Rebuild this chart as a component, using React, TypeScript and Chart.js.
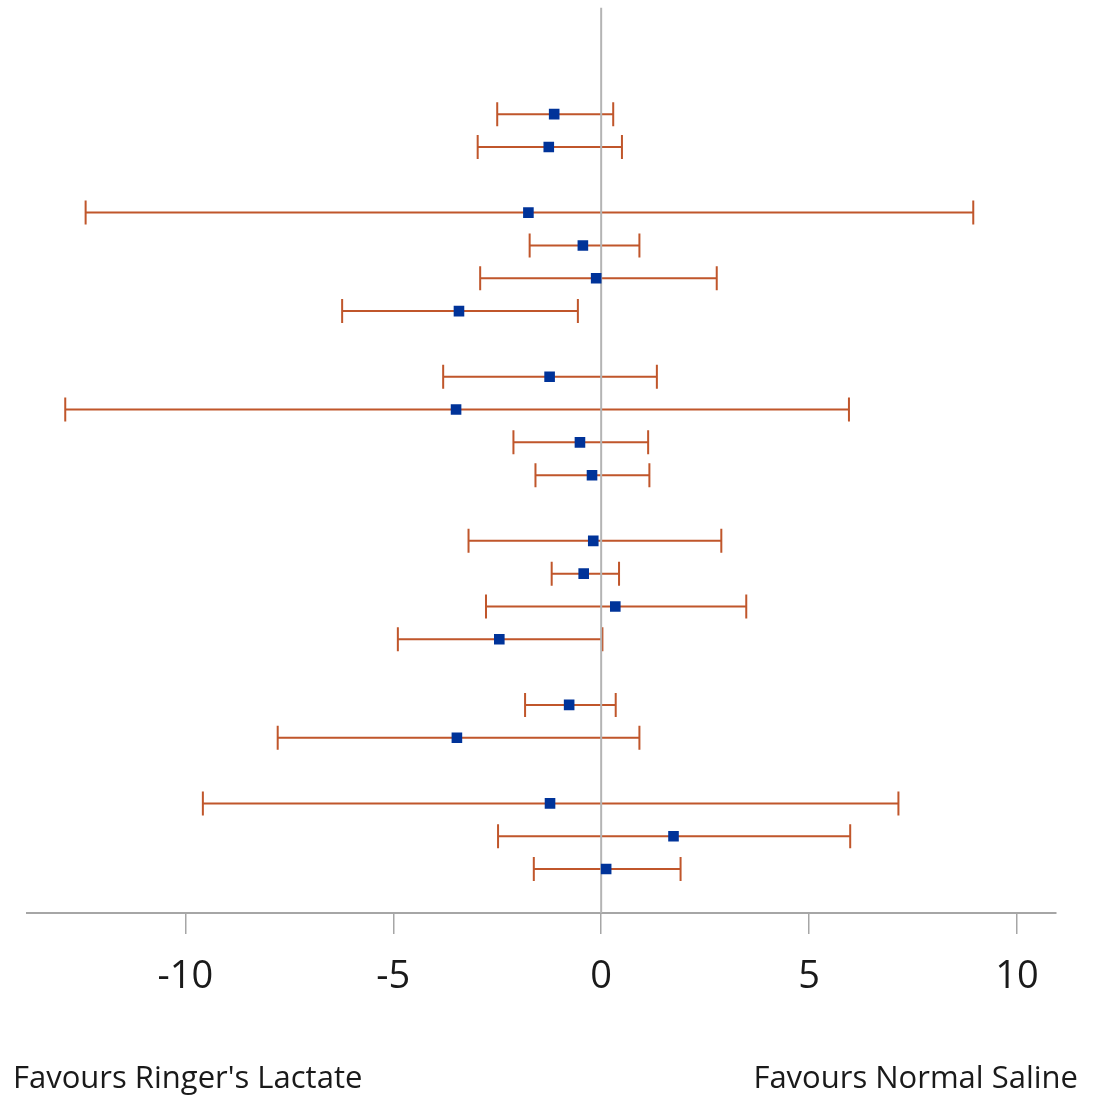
import React, { useEffect, useRef } from "react";
import { Chart, registerables } from "chart.js";

Chart.register(...registerables);

// Row positions (0 = top row); gaps mark group separators
const ROWS = [0, 1, 3, 4, 5, 6, 8, 9, 10, 11, 13, 14, 15, 16, 18, 19, 21, 22, 23];
const ESTIMATES = [-1.13, -1.26, -1.75, -0.44, -0.12, -3.42, -1.24, -3.49, -0.51, -0.22, -0.19, -0.42, 0.34, -2.45, -0.77, -3.47, -1.23, 1.74, 0.12];
const LOWER = [-2.5, -2.97, -12.4, -1.72, -2.91, -6.23, -3.8, -12.89, -2.11, -1.58, -3.19, -1.19, -2.77, -4.89, -1.83, -7.78, -9.58, -2.48, -1.62];
const UPPER = [0.29, 0.5, 8.95, 0.92, 2.78, -0.56, 1.34, 5.96, 1.13, 1.16, 2.89, 0.43, 3.49, 0.03, 0.35, 0.92, 7.15, 5.99, 1.91];
const X_TICKS = [-10, -5, 0, 5, 10];
const X_MIN = -13.81;
const X_MAX = 10.94;
const Y_MIN = -3.25;
const Y_MAX = 24.34;
const LEFT_LABEL = "Favours Ringer's Lactate";
const RIGHT_LABEL = "Favours Normal Saline";

const W = 1094;
const H = 1096;
const BAR_COLOR = "#c0562b";
const MARK_COLOR = "#003399";
const AXIS_COLOR = "#a6a6a6";
const FONT = '"Open Sans", "DejaVu Sans", sans-serif';

const errorBarPlugin = {
  id: "errorBars",
  beforeDatasetsDraw(chart: any) {
    const { ctx, scales } = chart;
    const xs = scales.x;
    const ys = scales.y;
    ctx.save();
    ctx.strokeStyle = BAR_COLOR;
    ctx.lineWidth = 2;
    const cap = 12;
    ROWS.forEach((r, i) => {
      const y = ys.getPixelForValue(r);
      const x1 = xs.getPixelForValue(LOWER[i]);
      const x2 = xs.getPixelForValue(UPPER[i]);
      ctx.beginPath();
      ctx.moveTo(x1, y);
      ctx.lineTo(x2, y);
      ctx.moveTo(x1, y - cap);
      ctx.lineTo(x1, y + cap);
      ctx.moveTo(x2, y - cap);
      ctx.lineTo(x2, y + cap);
      ctx.stroke();
    });
    ctx.restore();
  },
  afterDraw(chart: any) {
    const { ctx } = chart;
    ctx.save();
    ctx.fillStyle = "#1a1a1a";
    ctx.font = `31px ${FONT}`;
    ctx.textBaseline = "alphabetic";
    ctx.textAlign = "left";
    ctx.fillText(LEFT_LABEL, 13, 1088);
    ctx.textAlign = "right";
    ctx.fillText(RIGHT_LABEL, 1078, 1088);
    ctx.restore();
  },
};

export default function App() {
  const ref = useRef<HTMLCanvasElement>(null);
  useEffect(() => {
    if (!ref.current) return;
    const chart = new Chart(ref.current, {
      type: "scatter",
      data: {
        datasets: [
          {
            type: "line",
            data: [
              { x: 0, y: Y_MIN },
              { x: 0, y: Y_MAX },
            ],
            borderColor: "#b4b4b4",
            borderWidth: 2,
            pointRadius: 0,
            order: 3,
          } as any,
          {
            data: ROWS.map((r, i) => ({ x: ESTIMATES[i], y: r })),
            pointStyle: "rect",
            pointRadius: 7.5,
            backgroundColor: MARK_COLOR,
            borderColor: MARK_COLOR,
            borderWidth: 0,
            order: 1,
          },
        ],
      },
      options: {
        responsive: false,
        animation: false,
        layout: { padding: { left: 27, right: 38, top: 5, bottom: 0 } },
        plugins: { legend: { display: false }, tooltip: { enabled: false } },
        scales: {
          x: {
            type: "linear",
            position: "bottom",
            min: X_MIN,
            max: X_MAX,
            afterBuildTicks: (s: any) => {
              s.ticks = X_TICKS.map((v) => ({ value: v }));
            },
            afterFit: (s: any) => {
              s.height = H - 913;
            },
            grid: {
              drawOnChartArea: false,
              drawTicks: true,
              tickLength: 21,
              color: AXIS_COLOR,
              lineWidth: 1.5,
            },
            border: { display: true, color: AXIS_COLOR, width: 2 },
            ticks: {
              font: { family: FONT, size: 38 },
              color: "#1a1a1a",
              padding: 20,
              maxRotation: 0,
            },
          },
          y: {
            type: "linear",
            display: false,
            min: Y_MIN,
            max: Y_MAX,
            reverse: true,
          },
        },
      },
      plugins: [errorBarPlugin],
    });
    return () => chart.destroy();
  }, []);
  return (
    <div style={{ position: "absolute", left: 0, top: 0, width: W, height: H, background: "#fff" }}>
      <canvas ref={ref} width={W} height={H} />
    </div>
  );
}
